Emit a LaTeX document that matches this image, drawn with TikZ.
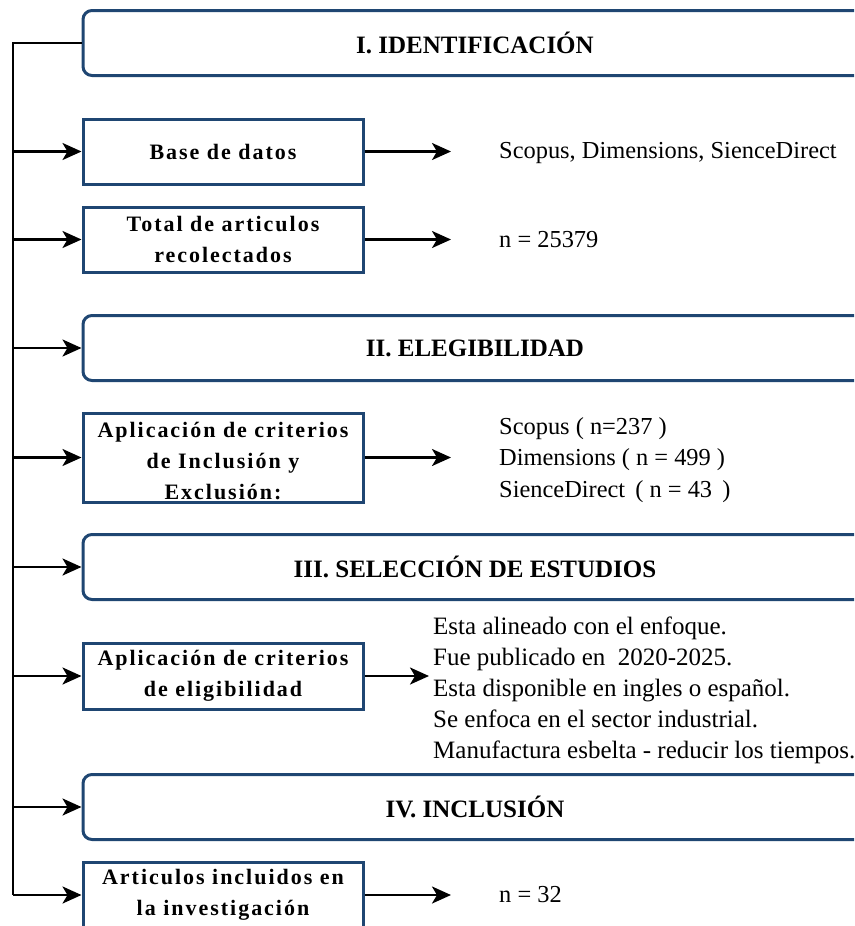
\documentclass[tikz,border=0pt]{standalone}
\usepackage{fontspec}
\setmainfont{Liberation Serif}
\newfontfamily\stepfont[LetterSpace=9]{Liberation Serif}
\usetikzlibrary{arrows.meta}

\definecolor{navy}{HTML}{1F4672}

\tikzset{
  phase/.style={draw=navy, line width=3pt, rounded corners=9pt,
    minimum width=784pt, minimum height=65pt, inner sep=0pt,
    font=\fontsize{25}{30}\selectfont\bfseries},
  stepbox/.style={draw=navy, line width=3pt, minimum width=280pt,
    inner sep=0pt, align=center,
    font=\stepfont\fontsize{22}{31}\selectfont\bfseries},
  info/.style={anchor=west, inner sep=0pt, align=left,
    font=\fontsize{24.4}{31.5}\selectfont},
  link/.style={line width=2.5pt},
  arr/.style={line width=2.5pt, -{Stealth[length=19pt, width=17pt, inset=5pt]}}
}

\begin{document}
\begin{tikzpicture}[x=1pt, y=-1pt]
\clip (0,0) rectangle (854,926);

% phase headers
\node[phase] (h1) at (475,43)  {I. IDENTIFICACIÓN};
\node[phase] (h2) at (475,348) {II. ELEGIBILIDAD};
\node[phase] (h3) at (475,567) {III. SELECCIÓN DE ESTUDIOS};
\node[phase] (h4) at (475,807) {IV. INCLUSIÓN};

% step boxes (the third one's text sits low and runs into its lower edge)
\node[stepbox, minimum height=65pt] (b1) at (223,151.5) {Base de datos};
\node[stepbox, minimum height=65pt] (b2) at (223,239.5) {Total de articulos\\recolectados};
\node[stepbox, minimum height=89pt] (b3) at (223,457.5) {\raisebox{-4pt}[\height][\depth]{\parbox{280pt}{\centering Aplicación de criterios\\de Inclusión y\\Exclusión:}}};
\node[stepbox, minimum height=66pt] (b4) at (223,676)   {Aplicación de criterios\\de eligibilidad};
\node[stepbox, minimum height=66pt] (b5) at (223,895)   {Articulos incluidos en\\la investigación};

% results
\node[info] (t1) at (499,153) {Scopus, Dimensions, SienceDirect};
\node[info] (t2) at (499,240) {n = 25379};
\node[info] (t3) at (499,460) {Scopus ( n=237 )\\Dimensions ( n = 499 )\\SienceDirect \,( n = 43 \,)};
\node[info, font=\fontsize{25}{31}\selectfont] (t4) at (433,690) {Esta alineado con el enfoque.\\Fue publicado en \ 2020-2025.\\Esta disponible en ingles o español.\\Se enfoca en el sector industrial.\\Manufactura esbelta - reducir los tiempos.};
\node[info] (t5) at (499,895) {n = 32};

% trunk on the left
\coordinate (top) at (13,43);
\coordinate (bot) at (13,895);
\draw[link] (h1.west) -- (top) -- (bot);

\foreach \n in {b1,b2,h2,b3,h3,b4,h4,b5}
  \draw[arr] (top |- \n.west) -- (\n.west);

% arrows to the results
\coordinate (tip)  at (451,0);
\coordinate (tip4) at (429,0);
\foreach \n in {b1,b2,b3,b5}
  \draw[arr] (\n.east) -- (\n.east -| tip);
\draw[arr] (b4.east) -- (b4.east -| tip4);
\end{tikzpicture}
\end{document}
